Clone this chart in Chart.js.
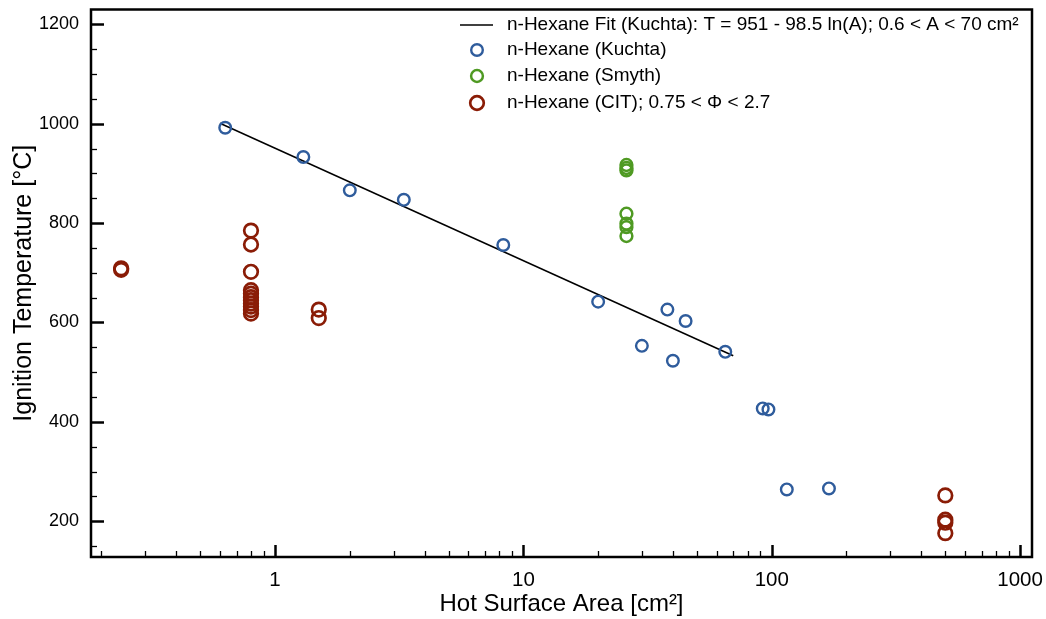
<!DOCTYPE html>
<html>
<head>
<meta charset="utf-8">
<script src="https://cdn.jsdelivr.net/npm/chart.js@4.4.1/dist/chart.umd.min.js"></script>
<style>
  html, body { margin: 0; padding: 0; background: #fff; }
  #wrap { width: 1046px; height: 619px; }
</style>
</head>
<body>
<div id="wrap"><canvas id="ignitionChart"></canvas></div>
<script>
// values
const fitArea = [0.6, 70];
const fitTemp = [1001, 533];

const kuchtaArea = [0.63, 1.3, 2.0, 3.3, 8.3, 20, 30, 38, 40, 45, 65, 92, 97, 115, 170];
const kuchtaTemp = [992, 933, 866, 847, 756, 642, 553, 626, 523, 603, 541, 427, 425, 264, 266];

const smythArea = [26, 26, 26, 26, 26, 26, 26];
const smythTemp = [917, 911, 906, 819, 799, 792, 774];

const citArea = [0.24, 0.24, 0.8, 0.8, 0.8, 0.8, 0.8, 0.8, 0.8, 0.8, 0.8, 0.8, 0.8, 1.5, 1.5, 500, 500, 500, 500];
const citTemp = [709, 706, 785, 757, 702, 665, 658, 651, 645, 638, 632, 625, 618, 626, 609, 252, 203, 197, 176];

const xTickValues = [1, 10, 100, 1000];
const xTickLabels = ['1', '10', '100', '1000'];
const yTickValues = [200, 400, 600, 800, 1000, 1200];

const seriesLabels = [
  'n-Hexane Fit (Kuchta): T = 951 - 98.5 ln(A); 0.6 < A < 70 cm²',
  'n-Hexane (Kuchta)',
  'n-Hexane (Smyth)',
  'n-Hexane (CIT); 0.75 < Φ < 2.7'
];

const FONT = '"Liberation Sans", Arial, Helvetica, sans-serif';

function toPoints(xs, ys) {
  return xs.map((x, i) => ({ x: x, y: ys[i] }));
}

// frame, inward tick marks and the legend drawn on top of the chart area
const frameAndLegend = {
  id: 'frameAndLegend',
  afterDraw(chart) {
    const ctx = chart.ctx;
    const area = chart.chartArea;
    const xScale = chart.scales.x;
    const yScale = chart.scales.y;
    ctx.save();
    ctx.strokeStyle = '#000';
    ctx.lineCap = 'butt';

    // x ticks (log decades with minor ticks 2..9)
    const e0 = Math.floor(Math.log10(xScale.min));
    const e1 = Math.ceil(Math.log10(xScale.max));
    for (let e = e0; e <= e1; e++) {
      for (let m = 1; m <= 9; m++) {
        const v = m * Math.pow(10, e);
        if (v < xScale.min || v > xScale.max) continue;
        const px = Math.round(xScale.getPixelForValue(v)) + 0.5;
        const major = m === 1;
        ctx.lineWidth = major ? 2.5 : 1.3;
        ctx.beginPath();
        ctx.moveTo(px, area.bottom);
        ctx.lineTo(px, area.bottom - (major ? 12 : 6));
        ctx.stroke();
      }
    }

    // y ticks every 50, major every 200
    for (let v = Math.ceil(yScale.min / 50) * 50; v <= yScale.max; v += 50) {
      const py = Math.round(yScale.getPixelForValue(v)) + 0.5;
      const major = v % 200 === 0;
      ctx.lineWidth = major ? 2.5 : 1.3;
      ctx.beginPath();
      ctx.moveTo(area.left, py);
      ctx.lineTo(area.left + (major ? 13 : 6), py);
      ctx.stroke();
    }

    // frame
    ctx.lineWidth = 2.5;
    ctx.strokeRect(area.left, area.top, area.right - area.left, area.bottom - area.top);

    // legend
    const rowY = [25, 50, 76, 103];
    const symX = 477;
    const textX = 507;
    ctx.font = '19px ' + FONT;
    ctx.textBaseline = 'middle';
    ctx.textAlign = 'left';
    chart.data.datasets.forEach((ds, i) => {
      const y = rowY[i];
      ctx.strokeStyle = ds.borderColor;
      if (ds.showLine) {
        ctx.lineWidth = 1.5;
        ctx.beginPath();
        ctx.moveTo(460, y);
        ctx.lineTo(493, y);
        ctx.stroke();
      } else {
        ctx.lineWidth = ds.borderWidth;
        ctx.beginPath();
        ctx.arc(symX, y, ds.pointRadius, 0, Math.PI * 2);
        ctx.stroke();
      }
      ctx.fillStyle = '#000';
      ctx.fillText(ds.label, textX, y);
    });
    ctx.restore();
  }
};

const ctx = document.getElementById('ignitionChart').getContext('2d');

const ignitionChart = new Chart(ctx, {
  type: 'scatter',
  data: {
    datasets: [
      {
        label: seriesLabels[0],
        data: toPoints(fitArea, fitTemp),
        showLine: true,
        borderColor: '#000000',
        borderWidth: 1.5,
        pointRadius: 0,
        fill: false,
        order: 4
      },
      {
        label: seriesLabels[1],
        data: toPoints(kuchtaArea, kuchtaTemp),
        borderColor: '#2f5c9c',
        backgroundColor: 'rgba(0,0,0,0)',
        borderWidth: 2.4,
        pointRadius: 5.8,
        pointHoverRadius: 5.8,
        order: 3
      },
      {
        label: seriesLabels[2],
        data: toPoints(smythArea, smythTemp),
        borderColor: '#4f9a23',
        backgroundColor: 'rgba(0,0,0,0)',
        borderWidth: 2.5,
        pointRadius: 5.9,
        pointHoverRadius: 5.9,
        order: 2
      },
      {
        label: seriesLabels[3],
        data: toPoints(citArea, citTemp),
        borderColor: '#8a1c06',
        backgroundColor: 'rgba(0,0,0,0)',
        borderWidth: 2.7,
        pointRadius: 6.8,
        pointHoverRadius: 6.8,
        order: 1
      }
    ]
  },
  options: {
    responsive: true,
    maintainAspectRatio: false,
    animation: false,
    layout: {
      padding: { left: 0, top: 8, right: 14, bottom: 0 }
    },
    scales: {
      x: {
        type: 'logarithmic',
        min: 0.1815,
        max: 1117,
        afterFit: s => { s.height = 62; s.paddingLeft = 0; s.paddingRight = 0; },
        afterBuildTicks: s => { s.ticks = xTickValues.map(v => ({ value: v })); },
        grid: { display: false, drawTicks: false },
        border: { display: false },
        ticks: {
          color: '#000',
          padding: 11,
          maxRotation: 0,
          autoSkip: false,
          font: { family: FONT, size: 20.5 },
          callback: (value) => xTickLabels[xTickValues.indexOf(value)]
        },
        title: {
          display: true,
          text: 'Hot Surface Area [cm²]',
          color: '#000',
          font: { family: FONT, size: 24 },
          padding: { top: 0, bottom: 0 }
        }
      },
      y: {
        type: 'linear',
        min: 128,
        max: 1230,
        afterFit: s => { s.width = 91; s.paddingTop = 0; s.paddingBottom = 0; },
        afterBuildTicks: s => { s.ticks = yTickValues.map(v => ({ value: v })); },
        grid: { display: false, drawTicks: false },
        border: { display: false },
        ticks: {
          color: '#000',
          padding: 12,
          autoSkip: false,
          font: { family: FONT, size: 18 },
          callback: (value) => String(value)
        },
        title: {
          display: true,
          text: 'Ignition Temperature [°C]',
          color: '#000',
          font: { family: FONT, size: 25 },
          padding: { top: 9, bottom: 0 }
        }
      }
    },
    plugins: {
      legend: { display: false },
      tooltip: { enabled: false }
    }
  },
  plugins: [frameAndLegend]
});
</script>
</body>
</html>
